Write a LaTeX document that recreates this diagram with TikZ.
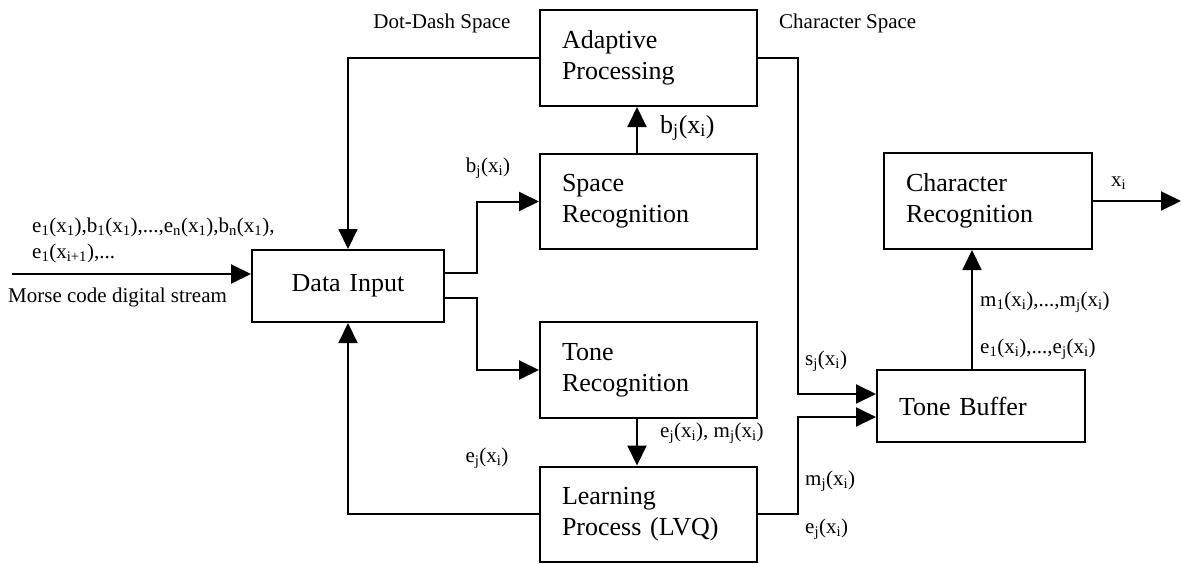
\documentclass[tikz,border=0pt]{standalone}
\usepackage{fontspec}
\setmainfont{Liberation Serif}
\usepackage{tikz}
\usetikzlibrary{arrows.meta}

\newcommand{\sbs}[1]{\textsubscript{#1}}

\begin{document}
\begin{tikzpicture}[x=1pt, y=-1pt,
		box/.style={draw, line width=2pt, inner xsep=22pt, inner ysep=0pt,
			text width=#1, align=left, font=\fontsize{26}{31}\selectfont},
		arr/.style={-{Triangle[length=20pt,width=19pt]}, line width=2pt},
		lbl/.style={inner sep=0pt, font=\fontsize{21}{25}\selectfont},
		biglbl/.style={inner sep=0pt, font=\fontsize{26}{31}\selectfont}]
			\useasboundingbox (0,0) rectangle (1181,563);

			\def\bw{173pt}

			% Make nodes
			\node[box=\bw, minimum height=96pt] (ap) at (648.5,58) {Adaptive\\Processing};
			\node[box=\bw, minimum height=95pt] (sr) at (648.5,201.5) {Space\\Recognition};
			\node[box=\bw, minimum height=96pt] (tr) at (648.5,370) {Tone\\Recognition};
			\node[box=\bw, minimum height=95pt] (lp) at (648.5,514) {Learning\\Process (LVQ)};
			\node[box=148pt, align=center, minimum height=72pt] (di) at (348,286) {Data Input};
			\node[box=164pt, minimum height=72pt] (tb) at (981,406) {Tone Buffer};
			\node[box=164pt, minimum height=96pt] (cr) at (988,201) {Character\\Recognition};

			\coordinate (in) at (12,274);
			\coordinate (out) at (1181,201);

			% Labels
			\node[lbl] (dds) at (442,23) {Dot-Dash Space};
			\node[lbl, anchor=west] (chs) at (779,23) {Character Space};
			\node[lbl, anchor=west] (seq1) at (32,227) {e\sbs{1}(x\sbs{1}),b\sbs{1}(x\sbs{1}),...,e\sbs{n}(x\sbs{1}),b\sbs{n}(x\sbs{1}),};
			\node[lbl, anchor=west] (seq2) at (32,253) {e\sbs{1}(x\sbs{i+1}),...};
			\node[lbl, anchor=west] (mcs) at (8,297) {Morse code digital stream};
			\node[biglbl, anchor=west] (bjap) at (660,128) {b\sbs{j}(x\sbs{i})};
			\node[lbl] (bjsr) at (488,168) {b\sbs{j}(x\sbs{i})};
			\node[lbl] (ejdi) at (487,458) {e\sbs{j}(x\sbs{i})};
			\node[lbl, anchor=west] (ejmj) at (660,433) {e\sbs{j}(x\sbs{i}), m\sbs{j}(x\sbs{i})};
			\node[lbl, anchor=west] (sj) at (805,361) {s\sbs{j}(x\sbs{i})};
			\node[lbl, anchor=west] (mjlp) at (805,481) {m\sbs{j}(x\sbs{i})};
			\node[lbl, anchor=west] (ejlp) at (805,529) {e\sbs{j}(x\sbs{i})};
			\node[lbl, anchor=west] (mall) at (980,302) {m\sbs{1}(x\sbs{i}),...,m\sbs{j}(x\sbs{i})};
			\node[lbl, anchor=west] (eall) at (980,349) {e\sbs{1}(x\sbs{i}),...,e\sbs{j}(x\sbs{i})};
			\node[lbl, anchor=west] (xi) at (1111,183) {x\sbs{i}};

			% Make arrows
			\draw[arr] (in) -- (in -| di.west);
			\draw[arr] (ap.west) -| (di.north);
			\draw[arr] ([yshift=13pt]di.east) -- ++(32,0) |- (sr.west);
			\draw[arr] ([yshift=-12pt]di.east) -- ++(32,0) |- (tr.west);
			\draw[arr] (lp.west) -| (di.south);
			\draw[arr] ([xshift=-11.5pt]sr.north) -- ([xshift=-11.5pt]ap.south);
			\draw[arr] ([xshift=-11.5pt]tr.south) -- ([xshift=-11.5pt]lp.north);
			\draw[arr] (ap.east) -- ++(40,0) |- ([yshift=12pt]tb.west);
			\draw[arr] (lp.east) -- ++(40,0) |- ([yshift=-11pt]tb.west);
			\draw[arr] ([xshift=-9pt]tb.north) -- ([xshift=-9pt]tb.north |- cr.south);
			\draw[arr] (cr.east) -- (out);
		\end{tikzpicture}
\end{document}
